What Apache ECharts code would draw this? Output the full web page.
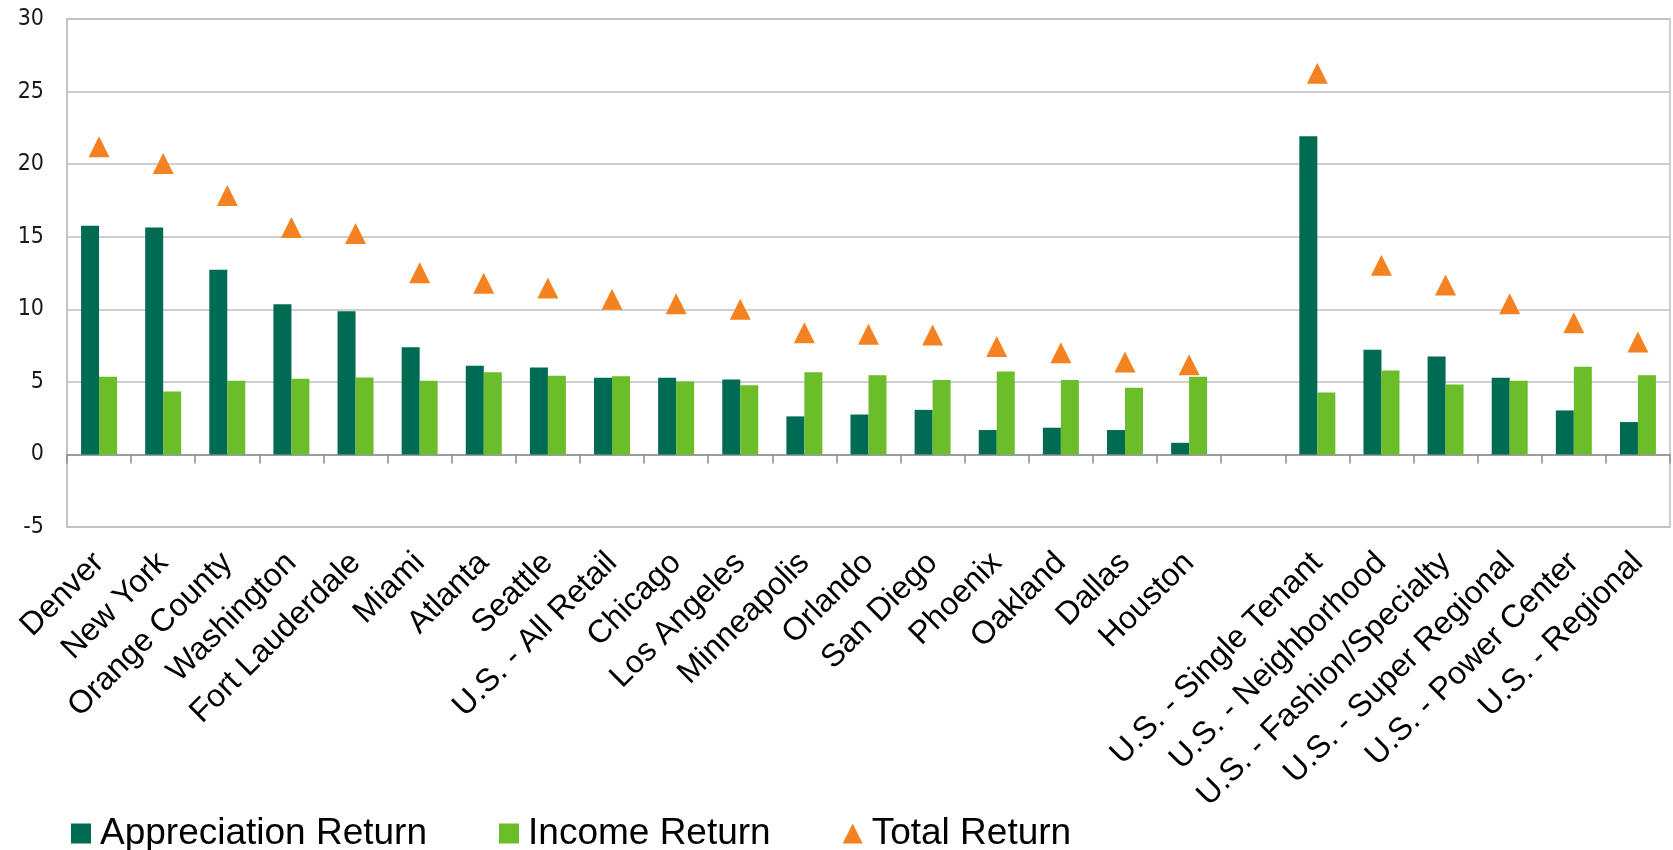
<!DOCTYPE html>
<html>
<head>
<meta charset="utf-8">
<script src="https://cdn.jsdelivr.net/npm/echarts@6/dist/echarts.min.js"></script>
<style>
  html, body { margin: 0; padding: 0; background: #fff; }
  #chart { width: 1673px; height: 850px; }
</style>
</head>
<body>
<div id="chart"></div>
<script>
// Retail property returns by market and by U.S. retail subtype (%)
const categories = [
  'Denver', 'New York', 'Orange County', 'Washington', 'Fort Lauderdale',
  'Miami', 'Atlanta', 'Seattle', 'U.S. - All Retail', 'Chicago',
  'Los Angeles', 'Minneapolis', 'Orlando', 'San Diego', 'Phoenix',
  'Oakland', 'Dallas', 'Houston', '',
  'U.S. - Single Tenant', 'U.S. - Neighborhood', 'U.S. - Fashion/Specialty',
  'U.S. - Super Regional', 'U.S. - Power Center', 'U.S. - Regional'
];
const appreciationReturn = [
  15.75, 15.63, 12.72, 10.35, 9.87, 7.39, 6.11, 5.99, 5.28, 5.28,
  5.17, 2.62, 2.75, 3.07, 1.68, 1.84, 1.68, 0.80, null,
  21.92, 7.21, 6.75, 5.28, 3.03, 2.23
];
const incomeReturn = [
  5.35, 4.34, 5.07, 5.21, 5.30, 5.07, 5.67, 5.42, 5.39, 5.03,
  4.77, 5.67, 5.46, 5.12, 5.72, 5.12, 4.59, 5.35, null,
  4.27, 5.79, 4.82, 5.07, 6.04, 5.46
];
const totalReturn = [
  21.19, 20.04, 17.84, 15.63, 15.23, 12.52, 11.80, 11.47, 10.70, 10.38,
  10.00, 8.38, 8.28, 8.22, 7.44, 7.01, 6.36, 6.18, null,
  26.26, 13.04, 11.67, 10.39, 9.07, 7.75
];
const yTicks = { min: -5, max: 30, step: 5 };

const colors = { appreciation: '#006b53', income: '#6bbd2a', total: '#f58220' };

const chart = echarts.init(document.getElementById('chart'), null, { renderer: 'canvas' });

chart.setOption({
  animation: false,
  backgroundColor: '#ffffff',
  grid: {
    left: 67, right: 3, top: 19, bottom: 323,
    show: true, borderColor: '#bfbfbf', borderWidth: 1.5, backgroundColor: 'transparent'
  },
  legend: {
    left: 66, top: 810,
    itemWidth: 20, itemHeight: 20, itemGap: 72,
    textStyle: {
      fontFamily: 'Liberation Sans, Arial, sans-serif', fontSize: 37, color: '#000',
      padding: [0, 0, 0, 4]
    },
    data: [
      { name: 'Appreciation Return', icon: 'rect' },
      { name: 'Income Return', icon: 'rect' },
      { name: 'Total Return', icon: 'triangle' }
    ]
  },
  xAxis: {
    type: 'category',
    data: categories,
    boundaryGap: true,
    axisLine: { onZero: true, lineStyle: { color: '#8c8c8c', width: 1.5 } },
    axisTick: { show: true, length: 9, lineStyle: { color: '#8c8c8c', width: 1.5 } },
    axisLabel: {
      interval: 0, rotate: 45, margin: 31,
      fontFamily: 'Liberation Sans, Arial, sans-serif', fontSize: 32, color: '#000'
    },
    splitLine: { show: false }
  },
  yAxis: {
    type: 'value',
    min: yTicks.min, max: yTicks.max, interval: yTicks.step,
    axisLine: { show: true, lineStyle: { color: '#bfbfbf', width: 1.5 } },
    axisTick: { show: false },
    axisLabel: {
      margin: 23,
      fontFamily: 'Liberation Sans Narrow, DejaVu Sans Condensed, sans-serif',
      fontSize: 23, color: '#1a1a1a'
    },
    splitLine: { show: true, lineStyle: { color: '#bfbfbf', width: 1.5 } }
  },
  series: [
    {
      name: 'Appreciation Return', type: 'bar', data: appreciationReturn,
      barWidth: 18, barGap: '0%',
      itemStyle: { color: colors.appreciation }
    },
    {
      name: 'Income Return', type: 'bar', data: incomeReturn,
      barWidth: 18, barGap: '0%',
      itemStyle: { color: colors.income }
    },
    {
      name: 'Total Return', type: 'scatter', data: totalReturn,
      symbol: 'triangle', symbolSize: [21, 21], z: 5,
      itemStyle: { color: colors.total, opacity: 1 }
    }
  ]
});
</script>
</body>
</html>
